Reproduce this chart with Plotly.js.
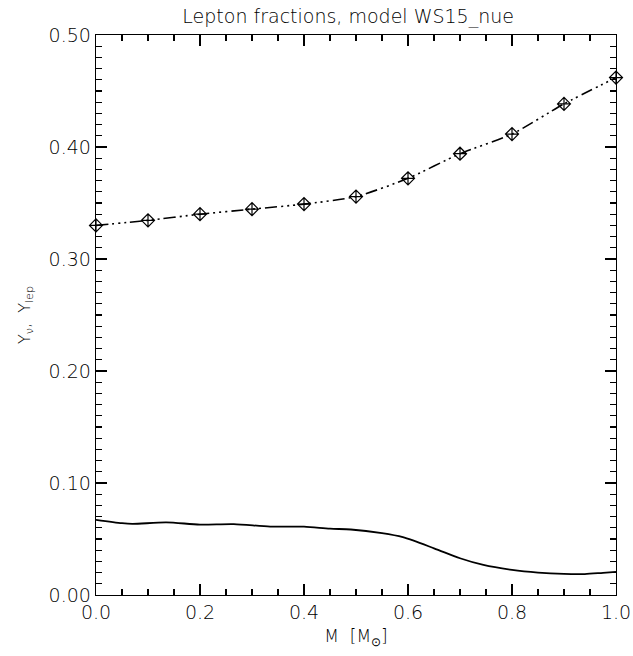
<!DOCTYPE html>
<html>
<head>
<meta charset="utf-8">
<script src="https://cdn.plot.ly/plotly-3.0.1.min.js"></script>
<style>html,body{margin:0;padding:0;background:#fff;}</style>
</head>
<body>
<div id="chart" style="width:633px;height:656px;"></div>
<script>
// Upper curve: lepton fraction Y_lep (markers at grid points)
var massLep = [0.0, 0.1, 0.2, 0.3, 0.4, 0.5, 0.6, 0.7, 0.8, 0.9, 1.0];
var yLep = [0.330, 0.3345, 0.340, 0.3445, 0.349, 0.3557, 0.372, 0.394, 0.4115, 0.4385, 0.462];

// Lower curve: neutrino fraction Y_nu
var massNu = [0.0, 0.05, 0.07, 0.135, 0.2, 0.265, 0.335, 0.4, 0.45, 0.49, 0.55, 0.59, 0.65, 0.70, 0.745, 0.80, 0.85, 0.90, 0.94, 0.975, 1.0];
var yNu = [0.0671, 0.0641, 0.0635, 0.0648, 0.0629, 0.0633, 0.0611, 0.0610, 0.0592, 0.0585, 0.0552, 0.0516, 0.0417, 0.0328, 0.0268, 0.0224, 0.0200, 0.0188, 0.0187, 0.0198, 0.0206];

var xRange = [0, 1];
var yRange = [0, 0.5];

var axisColor = '#000';
var textColor = '#000';
var fontFam = 'DejaVu Sans, sans-serif';
var fontW = 200;

var traces = [
  {
    x: massLep, y: yLep, type: 'scatter', mode: 'lines+markers',
    line: {color: '#000', width: 1.6, dash: '12px,4px,2px,4px,2px,4px,2px,4px', shape: 'spline', smoothing: 0.6},
    marker: {symbol: 'diamond-cross-open', size: 10, color: '#000', line: {width: 1.2, color: '#000'}},
    cliponaxis: false,
    hoverinfo: 'none'
  },
  {
    x: massNu, y: yNu, type: 'scatter', mode: 'lines',
    line: {color: '#000', width: 1.8, shape: 'spline', smoothing: 0.8},
    hoverinfo: 'none'
  }
];

function tf(size) { return {size: size, family: fontFam, color: textColor, weight: fontW}; }

var layout = {
  width: 633, height: 656,
  paper_bgcolor: '#fff', plot_bgcolor: '#fff',
  margin: {l: 96, r: 17, t: 35, b: 61},
  showlegend: false,
  font: tf(14),
  title: {text: 'Lepton fractions, model WS15_nue', font: tf(19), x: 0.55, xanchor: 'center', y: 0.985, yanchor: 'top'},
  xaxis: {
    range: xRange, tickmode: 'linear', tick0: 0, dtick: 0.2, tickformat: '.1f',
    ticks: 'inside', ticklen: 11, tickwidth: 1.3, tickcolor: axisColor,
    minor: {dtick: 0.05, ticks: 'inside', ticklen: 6, tickwidth: 1.3, tickcolor: axisColor, showgrid: false},
    showline: true, linecolor: axisColor, linewidth: 1.3, mirror: 'allticks',
    showgrid: false, zeroline: false,
    tickfont: tf(19),
    title: {text: 'M  [M<sub>⊙</sub>]', font: tf(17), standoff: 8}
  },
  yaxis: {
    range: yRange, tickmode: 'linear', tick0: 0, dtick: 0.1, tickformat: '.2f',
    ticks: 'inside', ticklen: 11, tickwidth: 1.3, tickcolor: axisColor,
    minor: {dtick: 0.01, ticks: 'inside', ticklen: 6, tickwidth: 1.3, tickcolor: axisColor, showgrid: false},
    showline: true, linecolor: axisColor, linewidth: 1.3, mirror: 'allticks',
    showgrid: false, zeroline: false,
    tickfont: tf(19),
    title: {text: 'Y<sub>ν</sub>,  Y<sub>lep</sub>', font: tf(16), standoff: 14}
  }
};

Plotly.newPlot('chart', traces, layout, {displayModeBar: false, staticPlot: true});
</script>
</body>
</html>
